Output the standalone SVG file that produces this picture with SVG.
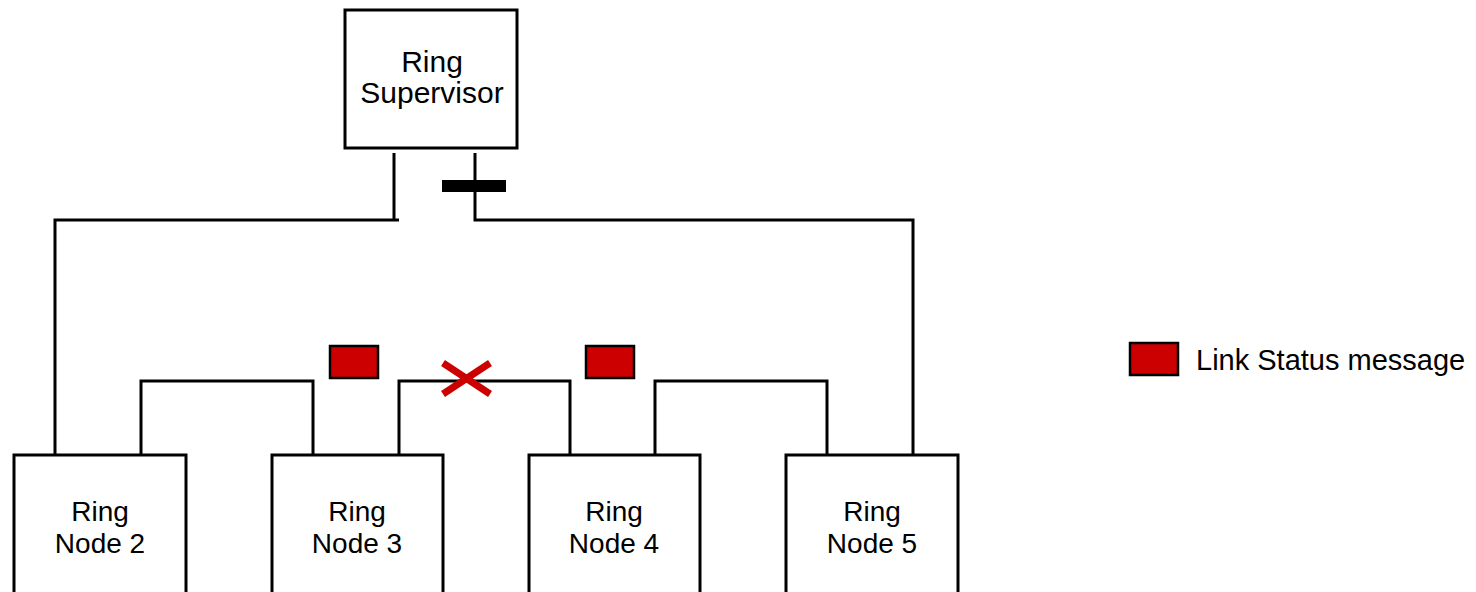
<svg xmlns="http://www.w3.org/2000/svg" width="1476" height="592" viewBox="0 0 1476 592">
<style>
.box{fill:#fff;stroke:#000;stroke-width:3}
.ln{fill:none;stroke:#000;stroke-width:3}
.msg{fill:#cc0000;stroke:#000;stroke-width:2.5}
.t{font-family:"Liberation Sans",Arial,sans-serif;font-size:28px;fill:#000;text-anchor:middle}
.big{font-size:30px}
.leg{font-size:29px;text-anchor:start}
</style>
<rect width="1476" height="592" fill="#fff"/>
<g id="connectors">
<polyline class="ln" points="394,153 394,220"/>
<polyline class="ln" points="399,220 55,220 55,455"/>
<polyline class="ln" points="475,153 475,220 913,220 913,457"/>
<polyline class="ln" points="141,455 141,381 313,381 313,455"/>
<polyline class="ln" points="399,455 399,381 570,381 570,455"/>
<polyline class="ln" points="655,455 655,381 827,381 827,455"/>
<rect x="442" y="180" width="64" height="12" fill="#000"/>
<g stroke="#cc0000" stroke-width="7">
<line x1="443" y1="363" x2="490" y2="394"/>
<line x1="443" y1="394" x2="490" y2="363"/>
</g>
<rect class="msg" x="330" y="346" width="48" height="32"/>
<rect class="msg" x="586" y="346" width="48" height="32"/>
</g>
<g id="supervisor">
<rect class="box" x="345" y="10" width="172" height="138"/>
<text class="t big" x="432" y="72">Ring</text>
<text class="t big" x="432" y="103">Supervisor</text>
</g>
<g id="node2">
<rect class="box" x="14" y="455" width="172" height="150"/>
<text class="t" x="100" y="521">Ring</text>
<text class="t" x="100" y="553">Node 2</text>
</g>
<g id="node3">
<rect class="box" x="272" y="455" width="171" height="150"/>
<text class="t" x="357" y="521">Ring</text>
<text class="t" x="357" y="553">Node 3</text>
</g>
<g id="node4">
<rect class="box" x="529" y="455" width="171" height="150"/>
<text class="t" x="614" y="521">Ring</text>
<text class="t" x="614" y="553">Node 4</text>
</g>
<g id="node5">
<rect class="box" x="786" y="455" width="172" height="150"/>
<text class="t" x="872" y="521">Ring</text>
<text class="t" x="872" y="553">Node 5</text>
</g>
<g id="legend">
<rect class="msg" x="1130" y="343" width="48" height="32"/>
<text class="t leg" x="1196" y="370">Link Status message</text>
</g>
</svg>
